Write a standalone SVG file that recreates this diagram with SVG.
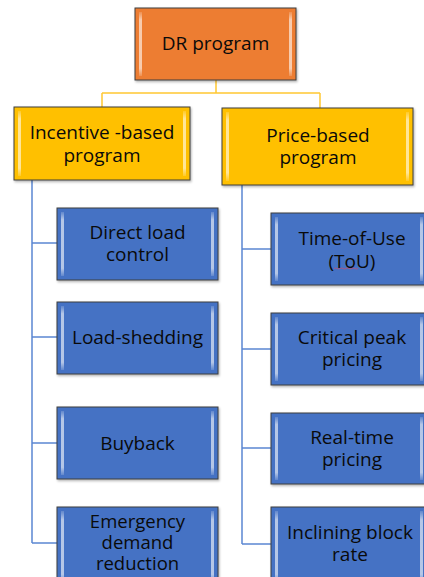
<svg xmlns="http://www.w3.org/2000/svg" width="424" height="577" viewBox="0 0 424 577">
<style>
.box{stroke:#3f3f3f;stroke-width:1}
.or{fill:#ED7D31}
.ye{fill:#FFC000}
.bl{fill:#4472C4}
.hl{fill:url(#hlg)}
.t{font-family:"Open Sans","Liberation Sans",sans-serif;font-size:19px;fill:#0a0a0a;text-anchor:middle}
.s{font-size:18.5px}
.cy{fill:none;stroke:#FFC832;stroke-width:1.5}
.cb{fill:none;stroke:#5B86D2;stroke-width:1.5}
</style>
<defs>
<linearGradient id="hlg" x1="0" y1="0" x2="0" y2="1">
<stop offset="0" stop-color="#fff" stop-opacity="0.15"/>
<stop offset="0.12" stop-color="#fff" stop-opacity="0.6"/>
<stop offset="0.88" stop-color="#fff" stop-opacity="0.6"/>
<stop offset="1" stop-color="#fff" stop-opacity="0.15"/>
</linearGradient>
<filter id="sh" x="-10%" y="-10%" width="120%" height="130%">
<feDropShadow dx="1" dy="1.5" stdDeviation="1" flood-color="#000" flood-opacity="0.3"/>
</filter>
</defs>
<g id="connectors">
<path class="cy" d="M216,80V93M102,93H320M102,93V107M320,93V108"/>
<path class="cb" d="M32,180V543M32,243H57M32,337H57M32,443H57M32,543H57"/>
<path class="cb" d="M242,185V544M242,249H271M242,349H271M242,448H271M242,544H271"/>
</g>
<g id="dr">
<rect class="box or" x="135" y="8" width="161" height="72" filter="url(#sh)"/>
<rect class="hl" x="139" y="12" width="3" height="64"/><rect class="hl" x="289" y="12" width="3" height="64"/>
<text class="t" x="215.5" y="50">DR program</text>
</g>
<g id="incentive">
<rect class="box ye" x="14" y="107" width="176" height="73" filter="url(#sh)"/>
<rect class="hl" x="18" y="111" width="3" height="65"/><rect class="hl" x="183" y="111" width="3" height="65"/>
<text class="t" x="102" y="139">Incentive -based</text>
<text class="t" x="102" y="162">program</text>
</g>
<g id="price">
<rect class="box ye" x="222" y="108" width="191" height="77" filter="url(#sh)"/>
<rect class="hl" x="226" y="112" width="3" height="69"/><rect class="hl" x="406" y="112" width="3" height="69"/>
<text class="t" x="318" y="142">Price-based</text>
<text class="t" x="318" y="164">program</text>
</g>
<g id="direct">
<rect class="box bl" x="57" y="208" width="161" height="72" filter="url(#sh)"/>
<rect class="hl" x="61" y="212" width="3" height="64"/><rect class="hl" x="211" y="212" width="3" height="64"/>
<text class="t" x="137.5" y="239">Direct load</text>
<text class="t" x="137.5" y="261">control</text>
</g>
<g id="shedding">
<rect class="box bl" x="57" y="302" width="161" height="72" filter="url(#sh)"/>
<rect class="hl" x="61" y="306" width="3" height="64"/><rect class="hl" x="211" y="306" width="3" height="64"/>
<text class="t" x="137.5" y="344">Load-shedding</text>
</g>
<g id="buyback">
<rect class="box bl" x="57" y="407" width="161" height="72" filter="url(#sh)"/>
<rect class="hl" x="61" y="411" width="3" height="64"/><rect class="hl" x="211" y="411" width="3" height="64"/>
<text class="t" x="137.5" y="450">Buyback</text>
</g>
<g id="emergency">
<rect class="box bl" x="57" y="507" width="161" height="80" filter="url(#sh)"/>
<rect class="hl" x="61" y="511" width="3" height="72"/><rect class="hl" x="211" y="511" width="3" height="72"/>
<text class="t s" x="137.5" y="528">Emergency</text>
<text class="t s" x="137.5" y="549">demand</text>
<text class="t s" x="137.5" y="570">reduction</text>
</g>
<g id="tou">
<rect class="box bl" x="271" y="213" width="158" height="72" filter="url(#sh)"/>
<rect class="hl" x="275" y="217" width="3" height="64"/><rect class="hl" x="420" y="217" width="3" height="64"/>
<text class="t" x="352" y="245">Time-of-Use</text>
<text class="t" x="352" y="268">(ToU)</text>
<path d="M334,268.5q1.5,-1 3,0t3,0t3,0t3,0t3,0t3,0t3,0t3,0" fill="none" stroke="#d04a6a" stroke-width="0.7"/>
</g>
<g id="critical">
<rect class="box bl" x="271" y="313" width="158" height="72" filter="url(#sh)"/>
<rect class="hl" x="275" y="317" width="3" height="64"/><rect class="hl" x="420" y="317" width="3" height="64"/>
<text class="t" x="352" y="344">Critical peak</text>
<text class="t" x="352" y="366">pricing</text>
</g>
<g id="realtime">
<rect class="box bl" x="271" y="413" width="158" height="71" filter="url(#sh)"/>
<rect class="hl" x="275" y="417" width="3" height="63"/><rect class="hl" x="420" y="417" width="3" height="63"/>
<text class="t" x="352" y="444">Real-time</text>
<text class="t" x="352" y="466">pricing</text>
</g>
<g id="inclining">
<rect class="box bl" x="271" y="507" width="158" height="80" filter="url(#sh)"/>
<rect class="hl" x="275" y="511" width="3" height="72"/><rect class="hl" x="420" y="511" width="3" height="72"/>
<text class="t" x="350" y="539">Inclining block</text>
<text class="t" x="350" y="561">rate</text>
</g>
</svg>
